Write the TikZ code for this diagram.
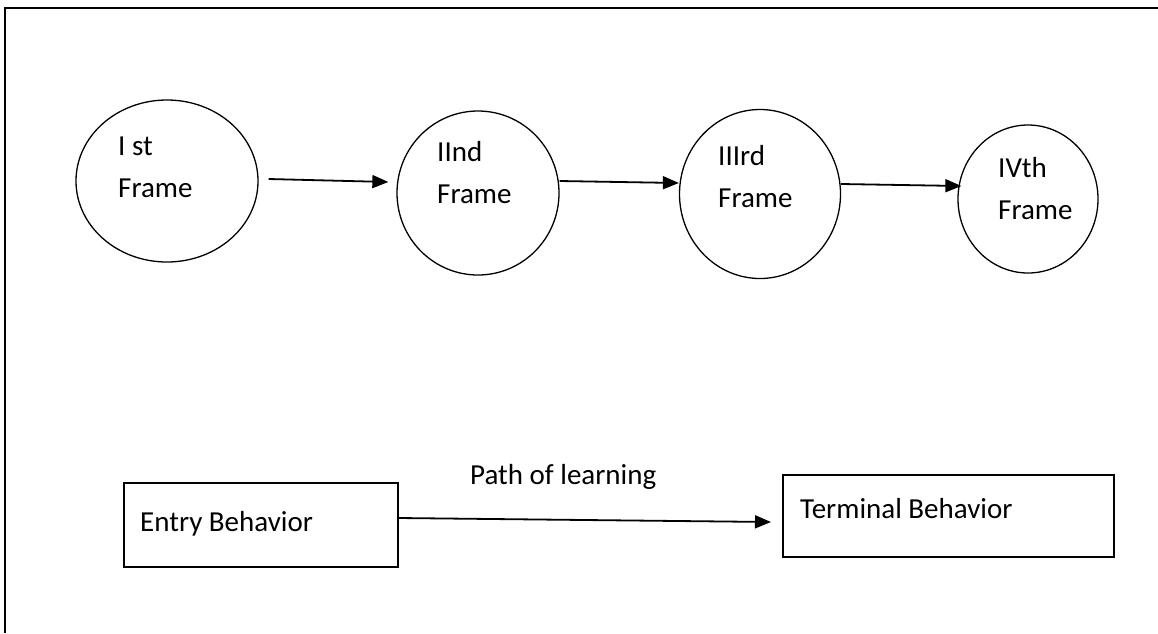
\documentclass[tikz,border=0pt]{standalone}
\usepackage{fontspec}
\setmainfont{Carlito}
\usetikzlibrary{arrows.meta,shapes.geometric}

\begin{document}
\begin{tikzpicture}[x=1pt,y=-1pt,
  every node/.style={font=\fontsize{29}{42}\selectfont},
  framecircle/.style={draw, ellipse, line width=1.3pt, inner sep=0pt},
  behaviorbox/.style={draw, rectangle, line width=2pt, inner sep=0pt},
  caption/.style={anchor=base west, inner sep=0pt, align=left},
  flow/.style={line width=1.8pt, -{Triangle[length=16pt,width=13pt]}}]
\useasboundingbox (0,0) rectangle (1158,633);

% page border (top and left edges)
\draw[line width=2.5pt] (5,633) -- (5,8) -- (1158,8);

% the four frames
\node[framecircle, minimum width=182pt, minimum height=162pt] (c1) at (167,181) {};
\node[framecircle, minimum width=162pt, minimum height=164pt] (c2) at (478,193) {};
\node[framecircle, minimum width=161pt, minimum height=169pt] (c3) at (760,194) {};
\node[framecircle, minimum width=140pt, minimum height=148pt] (c4) at (1028,199) {};

% frame labels, placed by the baseline of their last line
\node[caption] (t1) at (118,197) {I st\\Frame};
\node[caption] (t2) at (437,203) {IInd\\Frame};
\node[caption] (t3) at (718,207) {IIIrd\\Frame};
\node[caption] (t4) at (998,219) {IVth\\Frame};

\draw[flow] ([shift={(10,-2)}]c1.east) -- ([shift={(-8,-11)}]c2.west);
\draw[flow] ([shift={(0,-12)}]c2.east) -- ([shift={(0,-11)}]c3.west);
\draw[flow] ([shift={(0,-10)}]c3.east) -- ([shift={(4,-13)}]c4.west);

% entry and terminal behaviour
\node[behaviorbox, minimum width=274pt, minimum height=84pt] (entry) at (261,525) {};
\node[behaviorbox, minimum width=331pt, minimum height=82pt] (terminal) at (948.5,516) {};

\node[caption] (te) at (140,531) {Entry Behavior};
\node[caption] (tt) at (800,518) {Terminal Behavior};
\node[caption] (path) at (470,484) {Path of learning};

\draw[flow] ([shift={(0,-7)}]entry.east) -- ([shift={(-11,6)}]terminal.west);
\end{tikzpicture}
\end{document}
